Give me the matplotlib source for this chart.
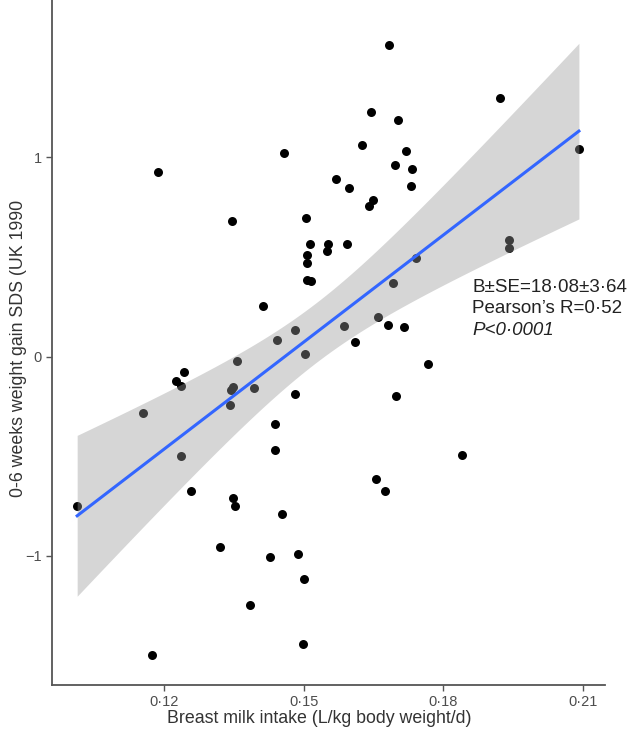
import numpy as np
import matplotlib
matplotlib.use("Agg")
import matplotlib.pyplot as plt

plt.rcParams['font.family'] = ['Liberation Sans', 'DejaVu Sans']

# breast milk intake (L/kg/d) and 0-6 week weight gain SDS
milk = np.array([0.1014, 0.1156, 0.1175, 0.1187, 0.1227, 0.1237, 0.1244, 0.1237, 0.1259, 0.1320,
                 0.1341, 0.1344, 0.1348, 0.1346, 0.1348, 0.1352, 0.1358, 0.1384, 0.1393, 0.1413,
                 0.1429, 0.1439, 0.1439, 0.1443, 0.1454, 0.1457, 0.1481, 0.1482, 0.1489, 0.1499,
                 0.1501, 0.1504, 0.1505, 0.1507, 0.1508, 0.1507, 0.1515, 0.1513, 0.1550, 0.1553,
                 0.1569, 0.1587, 0.1593, 0.1598, 0.1610, 0.1626, 0.1641, 0.1649, 0.1645, 0.1655,
                 0.1659, 0.1674, 0.1682, 0.1684, 0.1691, 0.1696, 0.1698, 0.1702, 0.1715, 0.1719,
                 0.1730, 0.1732, 0.1741, 0.1767, 0.1839, 0.1922, 0.1940, 0.1942, 0.2091])
gain = np.array([-0.750, -0.283, -1.496, 0.927, -0.121, -0.147, -0.075, -0.501, -0.672, -0.955,
                 -0.244, -0.167, -0.151, 0.682, -0.708, -0.750, -0.020, -1.248, -0.159, 0.256,
                 -1.008, -0.337, -0.467, 0.085, -0.792, 1.020, 0.136, -0.189, -0.991, -1.440,
                 -1.117, 0.015, 0.695, 0.471, 0.510, 0.387, 0.380, 0.566, 0.530, 0.566,
                 0.891, 0.153, 0.563, 0.846, 0.075, 1.060, 0.757, 0.785, 1.226, -0.613,
                 0.198, -0.672, 0.159, 1.563, 0.369, 0.960, -0.199, 1.186, 0.151, 1.030,
                 0.854, 0.943, 0.494, -0.037, -0.496, 1.298, 0.583, 0.545, 1.040])

xticks = [0.12, 0.15, 0.18, 0.21]
xtick_labels = ["0·12", "0·15", "0·18", "0·21"]
yticks = [-1, 0, 1]
ytick_labels = ["\u22121", "0", "1"]
stats_lines = ["B±SE=18·08±3·64", "Pearson’s R=0·52", "P<0·0001"]

# linear fit + 95% CI like geom_smooth(method="lm")
n = len(milk)
slope, intercept = np.polyfit(milk, gain, 1)
resid = gain - (intercept + slope * milk)
s = np.sqrt(np.sum(resid ** 2) / (n - 2))
t_crit = 1.995  # t(0.975, df~67)
xs = np.linspace(milk.min(), milk.max(), 100)
ys = intercept + slope * xs
se = s * np.sqrt(1 / n + (xs - milk.mean()) ** 2 / np.sum((milk - milk.mean()) ** 2))

fig = plt.figure(figsize=(6.35, 7.31), dpi=100)
ax = fig.add_axes([52 / 635, 46 / 731, 553 / 635, 685 / 731])

ax.scatter(milk, gain, s=42, color="black", linewidths=0, zorder=2)
ax.fill_between(xs, ys - t_crit * se, ys + t_crit * se, color="#999999", alpha=0.4,
                linewidth=0, zorder=3)
ax.plot(xs, ys, color="#3366FF", linewidth=2.2, zorder=4)

ax.set_xlim(0.096, 0.2147)
ax.set_ylim(-1.648, 1.79)
ax.set_xticks(xticks)
ax.set_xticklabels(xtick_labels)
ax.set_yticks(yticks)
ax.set_yticklabels(ytick_labels)

for side in ["top", "right"]:
    ax.spines[side].set_visible(False)
for side in ["left", "bottom"]:
    ax.spines[side].set_color("#555555")
    ax.spines[side].set_linewidth(1.3)
ax.tick_params(colors="#555555", labelcolor="#4d4d4d", length=4, width=1, labelsize=10.5)

ax.set_xlabel("Breast milk intake (L/kg body weight/d)", fontsize=12.8, color="#333333")
ax.set_ylabel("0-6 weeks weight gain SDS (UK 1990", fontsize=12.8, color="#333333")
ax.xaxis.set_label_coords(0.483, -0.037)
ax.yaxis.set_label_coords(-0.045, 0.491)

ax.text(0.7595, 0.581, stats_lines[0], transform=ax.transAxes, fontsize=13.5, color="#222222", va="center")
ax.text(0.7595, 0.549, stats_lines[1], transform=ax.transAxes, fontsize=13.5, color="#222222", va="center")
ax.text(0.7595, 0.517, stats_lines[2], transform=ax.transAxes, fontsize=13.5, color="#222222", va="center",
        style="italic")

fig.savefig("out.png", dpi=100)
